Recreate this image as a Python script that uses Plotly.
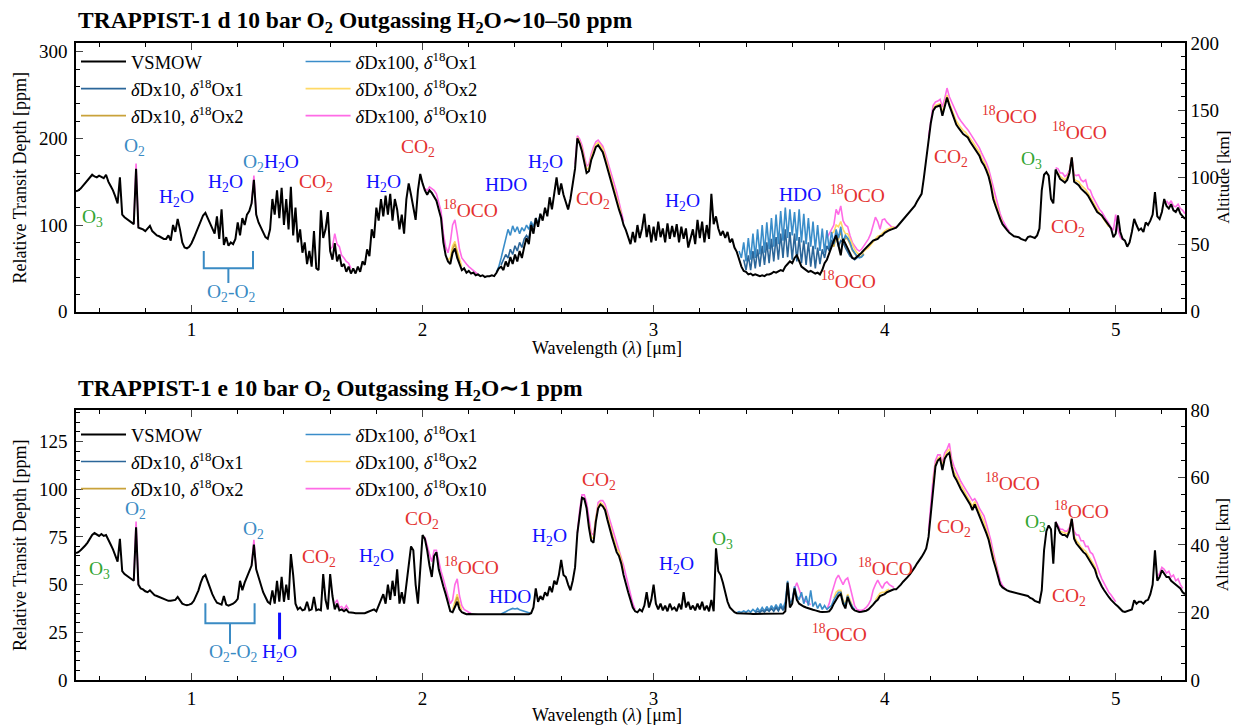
import plotly.graph_objects as go

# ---------------- data ----------------
WL_START = 0.50
WL_STEP = 0.01

# TRAPPIST-1 d, VSMOW spectrum (ppm), one value every 0.01 um from 0.50 to 5.30
d_vsmow = [
    139, 140, 142, 145, 148, 152, 155, 158, 156,        # 0.50-0.58
    155, 157, 155, 154, 158, 150, 145, 140, 133, 125,   # 0.59
    155, 112, 109, 107, 105, 103, 101, 165, 97, 96,     # 0.69
    95, 93, 96, 99, 93, 90, 88, 87, 85, 84,             # 0.79
    84, 88, 82, 100, 92, 107, 95, 80, 74, 73,           # 0.89
    75, 79, 85, 91, 97, 105, 111, 114, 108, 100,        # 0.99
    94, 90, 110, 84, 118, 77, 86, 76, 80, 78,           # 1.09
    84, 103, 88, 108, 100, 112, 116, 125, 152, 112,     # 1.19
    103, 97, 92, 86, 84, 95, 130, 112, 140, 108,        # 1.29
    143, 100, 130, 95, 144, 88, 120, 80, 95, 68,        # 1.39
    80, 55, 70, 52, 93, 50, 48, 117, 85, 95,            # 1.49
    115, 70, 60, 79, 58, 66, 52, 55, 46, 52,            # 1.59
    44, 50, 44, 52, 46, 58, 54, 72, 64, 95,             # 1.69
    85, 120, 105, 130, 110, 134, 112, 136, 105, 130,    # 1.79
    118, 95, 112, 90, 130, 148, 135, 118, 106, 140,     # 1.89
    159, 148, 140, 135, 140, 137, 132, 128, 118, 108,   # 1.99
    80, 65, 58, 55, 68, 73, 62, 55, 48, 50,             # 2.09
    45, 47, 44, 45, 42, 43, 41, 42, 40, 41, 41,         # 2.19-2.29
    42, 41, 45, 50, 52, 48, 58, 52, 63, 55,             # 2.30
    66, 58, 70, 62, 75, 85, 78, 100, 90, 108,           # 2.40
    98, 113, 105, 120, 110, 132, 118, 140, 155, 135,    # 2.50
    148, 135, 125, 118, 130, 150, 165, 200, 194, 185,   # 2.60
    172, 160, 162, 175, 182, 190, 192, 188, 184, 175,   # 2.70
    165, 155, 148, 137, 128, 118, 110, 100, 94, 85,     # 2.80
    78, 92, 80, 100, 85, 96, 113, 86, 100, 80,          # 2.90
    98, 82, 104, 86, 96, 80, 102, 84, 99, 86,           # 3.00
    101, 80, 98, 84, 96, 74, 83, 95, 78, 106,           # 3.10
    85, 104, 80, 100, 84, 136, 101, 110, 96, 88,        # 3.20
    93, 85, 92, 80, 84, 74, 69, 60, 52, 47,             # 3.30
    46, 43, 44, 42, 43, 42, 41, 42, 41, 43,             # 3.40
    43, 44, 46, 45, 47, 48, 47, 52, 55, 58,             # 3.50
    56, 62, 65, 58, 52, 50, 48, 46, 47, 45,             # 3.60
    44, 45, 43, 48, 56, 60, 68, 76, 82, 88,             # 3.70
    75, 65, 84, 78, 72, 67, 62, 61, 63, 65,             # 3.80
    68, 71, 74, 77, 80, 82, 83, 84, 87, 88,             # 3.90
    91, 93, 94, 95, 96, 97, 100, 103, 107, 110,         # 4.00
    113, 116, 119, 122, 127, 132, 136, 155, 178, 200,   # 4.10
    218, 232, 236, 237, 238, 226, 238, 247, 238, 231,   # 4.20
    222, 216, 212, 208, 205, 203, 201, 196, 192, 188,   # 4.30
    184, 180, 173, 169, 163, 156, 145, 130, 122, 113,   # 4.40
    107, 101, 97, 94, 91, 89, 87, 86.5, 86, 84,         # 4.50
    83, 82, 86, 87, 86, 85, 88, 96, 140, 158,           # 4.60
    161, 157, 130, 125, 164, 158, 153, 151, 149, 152,   # 4.70
    160, 178, 150, 148, 146, 142, 140, 137, 134, 129,   # 4.80
    124, 119, 115, 113, 111, 107, 103, 99, 96, 86,      # 4.90
    90, 111, 92, 84, 82, 75, 80, 92, 107, 100,          # 5.00
    94, 96, 92, 103, 100, 105, 112, 138, 110, 107,      # 5.10
    115, 130, 122, 119, 124, 117, 115, 120, 113, 110,   # 5.20
    107,                                                # 5.30
]

# TRAPPIST-1 d, other isotopologue cases: (start wavelength, values every 0.01 um)
d_d10o1 = [
    (2.34, [54, 60, 66, 62, 72, 66, 76, 70, 80, 74, 84, 88, 84, 102, 94]),
    (3.39, [60, 48, 65, 48, 70, 50, 72, 52, 76, 54, 80, 56, 84, 58, 86, 60, 90, 62, 95, 63,
            92, 60, 90, 58, 86, 56, 82, 54, 80, 52, 76, 50, 74, 55, 72, 62, 76, 70, 82, 80,
            90, 75, 82, 80, 74, 68, 64, 62, 60, 62, 65]),
]
d_d10o2 = [
    (2.12, [58, 72, 78, 66, 57]),
    (3.77, [80, 75, 86, 84, 93, 80, 85, 84, 78, 71, 67, 64, 63, 64, 67]),
]
d_d100o1 = [
    (2.32, [46, 52, 62, 74, 86, 95, 88, 99, 92, 98, 90, 97, 93, 100, 95, 104, 98, 108, 102, 113]),
    (3.37, [70, 62, 80, 58, 85, 60, 90, 62, 95, 66, 100, 68, 103, 72, 108, 75, 112, 78, 116, 82,
            120, 85, 118, 88, 115, 82, 118, 80, 113, 78, 108, 75, 104, 72, 100, 70, 96, 68, 94, 72,
            92, 78, 95, 85, 98, 80, 88, 85, 80, 72, 68, 64, 62, 63, 66]),
]
d_d100o2 = [
    (2.11, [60, 62, 76, 81, 70, 60, 52]),
    (2.67, [201, 196, 188, 176, 164, 166, 178, 186, 193, 195, 192, 188, 179, 169, 160, 152, 141, 132, 122, 113]),
    (3.77, [90, 92, 100, 98, 104, 95, 90, 90, 84, 77, 72, 68, 66, 67, 70, 72, 74, 77, 80, 84,
            87, 88, 91, 93, 95, 96, 97, 98]),
    (4.21, [234, 238, 239, 240, 230, 240, 250, 241, 234, 226, 220, 216, 212, 209, 207, 204, 200, 196, 192, 188,
            184, 177, 173, 167, 160, 149, 135, 126, 116, 109, 103]),
    (4.75, [160, 156, 154, 152, 155, 161, 178, 153, 151, 150, 146, 144, 141, 137, 132, 127, 122, 118, 114, 110,
            106, 101, 98]),
]
d_d100o10 = [
    (0.75, [101, 171, 97]),
    (1.26, [125, 157, 112]),
    (1.60, [72, 75, 90, 78, 75, 65, 62, 58, 56, 50]),
    (2.01, [142, 140, 144, 142, 140, 136, 126, 116, 90, 75, 68, 80, 100, 106, 90, 72, 62, 58, 55, 52,
            50, 47, 45, 43]),
    (2.66, [170, 203, 199, 192, 180, 168, 170, 182, 190, 196, 198, 195, 191, 183, 174, 165, 158, 147, 138, 127,
            117, 104]),
    (3.75, [85, 90, 95, 100, 118, 112, 122, 105, 100, 98, 88, 80, 76, 72, 70, 72, 76, 80, 84, 90,
            100, 109, 104, 95, 106, 107, 103, 100, 98, 97, 98]),
    (4.19, [202, 222, 238, 242, 243, 245, 236, 246, 258, 248, 242, 234, 228, 224, 220, 216, 213, 210, 206, 202,
            198, 193, 189, 183, 178, 172, 165, 155, 142, 132, 122, 113, 106, 100, 96, 93]),
    (4.74, [166, 165, 160, 160, 156, 158, 163, 178, 158, 157, 158, 152, 150, 152, 142, 140, 133, 128, 124, 118,
            115, 110, 106, 102, 97, 94, 112, 94, 86, 83]),
    (5.22, [128, 124, 128, 122, 121, 124, 119, 117, 113]),
]

# TRAPPIST-1 e, VSMOW spectrum (ppm), one value every 0.01 um from 0.50 to 5.30
e_vsmow = [
    66.5, 67, 68, 69, 70.5, 72, 74, 76, 77,                  # 0.50-0.58
    76, 75.5, 76.5, 75.5, 76, 73, 71, 68.5, 65, 62,          # 0.59
    74, 57, 55.5, 54.5, 53.5, 53, 52, 80, 50, 48,            # 0.69
    47.5, 46.5, 46, 47, 45.5, 44.5, 44, 43.5, 43, 42.5,      # 0.79
    42, 41.5, 41.5, 41.8, 42, 43.5, 41.5, 40, 39.5, 39.2,    # 0.89
    39.5, 40, 41.5, 44, 47, 51, 54, 55, 51.5, 48,            # 0.99
    45, 42.5, 40.5, 40, 39.5, 44, 39.5, 39, 39.5, 40,        # 1.09
    41, 42.5, 52, 47, 51, 54, 57, 60, 71, 58,                # 1.19
    54, 50, 46, 43.5, 41, 40, 47, 40, 52, 41,                # 1.29
    54, 41, 50, 42, 66, 55, 40, 37, 38, 36.5,                # 1.39
    37, 41, 36.5, 37, 43.5, 36.5, 37, 36.5, 55.5, 42,        # 1.49
    37, 55.5, 44, 37, 40, 36.5, 37, 36, 37, 35.5,            # 1.59
    35.5, 35.2, 35, 35, 35, 35.2, 35, 35.5, 36, 36.5,        # 1.69
    37, 36, 39, 41, 45, 40, 50, 42, 52, 44,                  # 1.79
    58, 40, 46, 40, 50, 62, 70, 68, 50, 40,                  # 1.89
    58, 76, 74, 68, 60, 54, 65, 67, 58, 53,                  # 1.99
    49, 45, 40, 36, 35.5, 38, 41, 37, 35.5, 35,              # 2.09
    34.5, 34.6, 34.5, 34.5, 34.6, 34.5, 34.5, 34.6, 34.5, 34.5, 34.5,  # 2.19-2.29
    34.5, 34.5, 34.6, 34.5, 34.5, 34.6, 34.5, 34.5, 34.6, 34.5,  # 2.30
    34.5, 34.6, 34.5, 34.5, 34.6, 34.5, 34.5, 35, 38, 48,    # 2.40
    41, 44, 42, 46, 44, 49, 46, 52, 50, 55,                  # 2.50
    63, 55, 54, 50, 47, 52, 59, 77, 86, 95.5,                # 2.60
    95, 90, 80, 73, 72, 83, 90, 92, 91, 89,                  # 2.70
    84, 79, 75, 71, 67, 65, 61, 55, 50, 46,                  # 2.80
    42, 38, 36, 35.5, 37, 36, 39, 46, 38, 42,                # 2.90
    50, 40, 37, 40, 36.5, 39, 36, 40, 37, 38,                # 3.00
    36, 40, 37, 46, 38, 41, 37, 39, 36.5, 40,                # 3.10
    37, 41, 36.5, 39, 36, 42, 36, 69, 57, 55,                # 3.20
    51, 46, 41, 38, 36.5, 35.5, 35, 35, 34.8, 34.8,          # 3.30
    34.7, 34.7, 34.7, 34.6, 34.6, 34.6, 34.6, 34.6, 34.6, 34.6,  # 3.40
    34.6, 34.6, 34.6, 34.6, 34.6, 34.7, 34.8, 36, 51, 38,    # 3.50
    40, 48, 42, 40, 39, 38.5, 38, 37.5, 37, 36.8,            # 3.60
    36.5, 36, 35.8, 35.6, 35.5, 35.7, 36, 37.5, 40, 42,      # 3.70
    44, 45, 40, 37.5, 43.5, 40, 37.5, 36.5, 36, 35.7,        # 3.80
    35.8, 36, 36.3, 37, 38, 39.5, 41, 42, 44, 44.5,          # 3.90
    45, 46, 46.5, 47, 47.5, 47.5, 48.5, 50, 51.5, 52.5,      # 4.00
    54, 55.5, 57, 59, 61, 62.5, 64.5, 66.5, 69, 75,          # 4.10
    88, 102, 112, 115, 116, 110, 116, 118, 119, 112,         # 4.20
    107, 105, 102, 100, 98, 96, 94, 92, 89, 92,              # 4.30
    89, 86, 84, 81, 77, 73.5, 68, 63, 59, 54,                # 4.40
    50, 48.5, 47.5, 47, 46.5, 46.2, 46, 45.8, 45.5, 45.3,    # 4.50
    45, 44.5, 44, 43, 42.5, 41.5, 41, 40.5, 47, 68,          # 4.60
    78, 81, 79, 61, 82.8, 80, 77, 76, 76, 75,                # 4.70
    78, 84.5, 74, 71.5, 70, 68, 67, 66, 64, 62,              # 4.80
    60, 58, 54, 51, 49, 47, 45, 43.5, 42, 40.5,              # 4.90
    39.5, 38.5, 37, 36, 35.7, 36, 36.5, 37, 41.8, 40,        # 5.00
    41, 41, 40, 41.5, 42, 45, 50, 68, 52, 54,                # 5.10
    57.5, 56, 54, 54, 52, 51, 50, 49, 48, 46,                # 5.20
    45,                                                      # 5.30
]

e_d10o1 = [
    (3.44, [35.3, 36, 35.5, 36.5, 35.7, 37, 36, 37.5, 36, 38, 36.2, 38.5, 36.5, 39]),
]
e_d10o2 = [
    (2.14, [40, 43.5, 39]),
    (3.79, [44, 45.5, 46, 41, 38.5, 44.5]),
]
e_d100o1 = [
    (2.34, [34.6, 35, 35.8, 36.5, 37, 37.5, 37.2, 37.5, 36.8, 36.5, 36.2, 35.8, 35.3, 34.8]),
    (3.36, [35.3, 35.8, 35.4, 36.2, 35.5, 36.5, 35.6, 37, 35.8, 37.5, 36, 38, 36.2, 38.5, 36.5, 39, 37, 39.5, 37, 40,
            37.5, 41, 52, 40, 42, 49, 44, 42, 46, 40, 44, 39, 47, 38.5, 41, 37.5, 40, 37, 39, 37,
            38, 39, 42, 44, 46, 46, 41, 39, 44, 41, 38.5, 37]),
]
e_d100o2 = [
    (2.13, [37, 41, 45, 40, 36.5]),
    (2.72, [82, 75, 74, 85, 91, 93, 92, 90, 86, 81, 77, 73, 69, 67, 63, 57]),
    (3.78, [43, 46, 47, 47, 42, 40, 45, 42, 39]),
    (3.96, [42, 43.5, 45.5, 46, 46, 47, 47.5]),
    (4.21, [103, 113, 116, 117, 112, 117, 119.5, 121, 113.5, 109, 107, 104, 102, 100, 97.5, 95.5, 93.5, 91, 93.5, 91,
            88, 86, 83, 79, 75.5, 70, 65, 60.5, 55.5]),
    (4.76, [78, 77.5, 77, 76.5, 79, 84.5, 75.5, 73, 71.5, 69.5, 68.5, 67.5, 65.5, 63.5, 61.5, 59.5, 55.5]),
]
e_d100o10 = [
    (0.75, [52, 83, 50]),
    (1.26, [60, 73.5, 58]),
    (1.62, [40, 42, 38, 38.5, 37, 39, 37]),
    (2.01, [75, 70, 66, 62, 68, 68, 62, 57, 53, 48, 44, 40, 42, 50, 53, 44, 39, 37, 36, 35.5, 35]),
    (2.67, [77, 89, 97, 97, 93, 84, 77, 76, 86, 93, 94, 94, 92, 88, 84, 80, 76, 72, 69, 65,
            60, 55, 50, 45, 40, 37]),
    (3.60, [42, 48, 51, 47, 44, 42, 41, 40, 39.5]),
    (3.75, [37, 40, 45, 49, 53, 55, 52, 50, 52.5, 53.5, 49, 44, 39, 37, 36.5, 36.5, 37, 38, 39.5, 42,
            47, 50, 52.3, 50, 48, 50.5, 51.4, 50, 49, 48.5]),
    (4.19, [78, 92, 106, 115, 118, 118, 114, 119, 121, 124, 116, 112, 109, 106, 104, 102, 100, 98, 96, 94,
            95, 93, 90, 88, 86, 82, 78, 73, 67, 62, 57, 52, 49.5, 48]),
    (4.74, [83, 81, 79, 79, 78, 78, 80, 84.5, 78, 76, 76, 73, 73, 70, 70, 67, 66, 63, 59, 56,
            53, 50.5, 48.5, 46, 44.5, 42.5, 41]),
    (5.18, [54, 56, 59, 58, 56, 57, 54, 55, 52, 53, 50, 48]),
]

series_names = [
    "VSMOW",
    "<i>δ</i>Dx10, <i>δ</i><sup>18</sup>Ox1",
    "<i>δ</i>Dx10, <i>δ</i><sup>18</sup>Ox2",
    "<i>δ</i>Dx100, <i>δ</i><sup>18</sup>Ox1",
    "<i>δ</i>Dx100, <i>δ</i><sup>18</sup>Ox2",
    "<i>δ</i>Dx100, <i>δ</i><sup>18</sup>Ox10",
]
series_colors = ["#000000", "#2b6699", "#c9a23a", "#3a8dc9", "#ffd966", "#ff6be6"]

# ---------------- helpers ----------------
def full_grid(values):
    xs = [round(WL_START + WL_STEP * i, 2) for i in range(len(values))]
    return xs, values


def seg_grid(segments):
    xs, ys = [], []
    for start, vals in segments:
        for i, v in enumerate(vals):
            xs.append(round(start + WL_STEP * i, 2))
            ys.append(v)
        xs.append(None)
        ys.append(None)
    return xs, ys


FONT = "Liberation Serif"
fig = go.Figure()


def add_panel(xref, yref, vsmow, others, legA, legB):
    order = [5, 4, 2, 3, 1]
    for k in order:
        xs, ys = seg_grid(others[k - 1])
        leg = legA if k <= 2 else legB
        rank = k + 1 if k <= 2 else k - 2
        fig.add_trace(go.Scatter(
            x=xs, y=ys, mode="lines", name=series_names[k],
            line=dict(color=series_colors[k], width=1.6),
            xaxis=xref, yaxis=yref, legend=leg, legendrank=rank,
            connectgaps=False, hoverinfo="skip"))
    xs, ys = full_grid(vsmow)
    fig.add_trace(go.Scatter(
        x=xs, y=ys, mode="lines", name=series_names[0],
        line=dict(color="#000000", width=2),
        xaxis=xref, yaxis=yref, legend=legA, legendrank=1, hoverinfo="skip"))


add_panel("x", "y", d_vsmow, [d_d10o1, d_d10o2, d_d100o1, d_d100o2, d_d100o10], "legend", "legend2")
add_panel("x2", "y3", e_vsmow, [e_d10o1, e_d10o2, e_d100o1, e_d100o2, e_d100o10], "legend3", "legend4")

# empty traces so the right-hand altitude axes are drawn
fig.add_trace(go.Scatter(x=[None], y=[None], xaxis="x", yaxis="y2", showlegend=False, hoverinfo="skip"))
fig.add_trace(go.Scatter(x=[None], y=[None], xaxis="x2", yaxis="y4", showlegend=False, hoverinfo="skip"))

# ---------------- axes ----------------
TOP_DOM = [0.5782, 1.0]
BOT_DOM = [0.0, 0.4239]
tickfont = dict(family=FONT, size=19, color="black")


def minor(dt):
    return dict(dtick=dt, tick0=0, ticks="inside", ticklen=4, tickcolor="black", showgrid=False)


def xaxis_cfg(anchor):
    return dict(
        domain=[0, 1], anchor=anchor, range=[0.5, 5.3], automargin=False,
        tickvals=[1, 2, 3, 4, 5], ticks="inside", ticklen=7, tickwidth=1.2,
        showline=True, linecolor="black", linewidth=1.5, mirror="ticks",
        showgrid=False, zeroline=False, tickfont=tickfont, minor=minor(0.2),
    )


def yleft_cfg(domain, anchor, rng, dtick, mdtick):
    return dict(
        domain=domain, anchor=anchor, range=rng, dtick=dtick, tick0=0, automargin=False,
        ticks="inside", ticklen=7, tickwidth=1.2, showline=True, linecolor="black", linewidth=1.5,
        showgrid=False, zeroline=False, tickfont=tickfont, minor=minor(mdtick), ticklabelstandoff=3,
    )


def yright_cfg(over, anchor, rng, dtick, mdtick):
    return dict(
        overlaying=over, anchor=anchor, side="right", range=rng, dtick=dtick, tick0=0, automargin=False,
        ticks="inside", ticklen=7, tickwidth=1.2, showline=True, linecolor="black", linewidth=1.5,
        showgrid=False, zeroline=False, tickfont=tickfont, minor=minor(mdtick), ticklabelstandoff=0,
    )


legend_common = dict(bgcolor="rgba(0,0,0,0)", borderwidth=0, xanchor="left", yanchor="top",
                     font=dict(family=FONT, size=18.5, color="black"), itemwidth=45,
                     tracegroupgap=0, traceorder="normal")

# the page adds an 8px body margin, so the figure is 8px smaller than the window
fig.update_layout(
    width=1231, height=717,
    margin=dict(l=68, r=53.5, t=35, b=45),
    paper_bgcolor="white", plot_bgcolor="white",
    font=dict(family=FONT, size=19, color="black"),
    xaxis=xaxis_cfg("y"),
    yaxis=yleft_cfg(TOP_DOM, "x", [0, 310], 100, 20),
    yaxis2=yright_cfg("y", "x", [0, 200], 50, 10),
    xaxis2=xaxis_cfg("y3"),
    yaxis3=yleft_cfg(BOT_DOM, "x2", [0, 141.5], 25, 5),
    yaxis4=yright_cfg("y3", "x2", [0, 80], 20, 5),
    legend=dict(x=0.0, y=1.0, **legend_common),
    legend2=dict(x=0.2025, y=1.0, **legend_common),
    legend3=dict(x=0.0, y=0.4145, **legend_common),
    legend4=dict(x=0.2025, y=0.4145, **legend_common),
    showlegend=True,
)

# ---------------- titles & axis titles ----------------
AX_TITLE = dict(family=FONT, size=18, color="black")
fig.add_annotation(text="<b>TRAPPIST-1 d 10 bar O<sub>2</sub> Outgassing H<sub>2</sub>O∼10–50 ppm</b>",
                   xref="paper", yref="paper", x=0.0, y=1.0, yshift=4, xanchor="left", yanchor="bottom",
                   showarrow=False, font=dict(family=FONT, size=23.5, color="black"))
fig.add_annotation(text="<b>TRAPPIST-1 e 10 bar O<sub>2</sub> Outgassing H<sub>2</sub>O∼1 ppm</b>",
                   xref="paper", yref="paper", x=0.0, y=BOT_DOM[1], yshift=3, xanchor="left", yanchor="bottom",
                   showarrow=False, font=dict(family=FONT, size=23.5, color="black"))
for yc in (0.789, 0.212):
    fig.add_annotation(text="Relative Transit Depth [ppm]", xref="paper", yref="paper", x=-0.0505, y=yc,
                       textangle=-90, showarrow=False, xanchor="center", yanchor="middle", font=AX_TITLE)
    fig.add_annotation(text="Altitude [km]", xref="paper", yref="paper", x=1.0345, y=yc,
                       textangle=-90, showarrow=False, xanchor="center", yanchor="middle",
                       font=dict(family=FONT, size=17, color="black"))
for yc in (0.521, -0.0565):
    fig.add_annotation(text="Wavelength (<i>λ</i>) [μm]", xref="paper", yref="paper", x=0.4786, y=yc,
                       showarrow=False, xanchor="center", yanchor="middle", font=AX_TITLE)

# ---------------- molecule labels ----------------
RED = "#e4312f"
BLUE = "#1010ff"
STEEL = "#3a8bc4"
GREEN = "#33a532"

H2O = "H<sub>2</sub>O"
CO2 = "CO<sub>2</sub>"
OCO = "<sup>18</sup>OCO"
O2 = "O<sub>2</sub>"
O3 = "O<sub>3</sub>"
HDO = "HDO"
O2O2 = "O<sub>2</sub>-O<sub>2</sub>"
O2H2O = "<span style='color:%s'>O<sub>2</sub></span><span style='color:%s'>H<sub>2</sub>O</span>" % (STEEL, BLUE)

labels_d = [
    (O2, 0.753, 190, STEEL), (O3, 0.571, 108, GREEN), (H2O, 0.935, 131, BLUE), (H2O, 1.146, 148, BLUE),
    (O2H2O, 1.343, 171, BLUE), (CO2, 1.54, 148, RED), (H2O, 1.83, 148, BLUE), (CO2, 1.981, 189, RED),
    (OCO, 2.206, 119, RED), (HDO, 2.362, 147, BLUE), (H2O, 2.533, 171, BLUE), (CO2, 2.738, 129, RED),
    (H2O, 3.127, 126, BLUE), (HDO, 3.632, 135, BLUE), (OCO, 3.884, 136, RED), (OCO, 3.843, 36, RED),
    (CO2, 4.286, 177, RED), (OCO, 4.541, 227, RED), (OCO, 4.842, 209, RED), (O3, 4.636, 175, GREEN),
    (CO2, 4.792, 97, RED), (O2O2, 1.172, 21, STEEL),
]
labels_e = [
    (O2, 0.759, 89, STEEL), (O3, 0.60, 57.7, GREEN), (O2, 1.269, 78.6, STEEL), (CO2, 1.55, 63.8, RED),
    (H2O, 1.80, 64.6, BLUE), (CO2, 1.998, 83.9, RED), (OCO, 2.21, 59.5, RED), (HDO, 2.379, 43.7, BLUE),
    (H2O, 2.551, 74.8, BLUE), (CO2, 2.763, 104.5, RED), (H2O, 3.101, 60.3, BLUE), (O3, 3.30, 73.4, GREEN),
    (HDO, 3.701, 63.3, BLUE), (OCO, 4.004, 59.4, RED), (OCO, 3.806, 24.5, RED), (CO2, 4.301, 79.5, RED),
    (OCO, 4.554, 103.9, RED), (OCO, 4.852, 89.1, RED), (O3, 4.651, 82.1, GREEN), (CO2, 4.799, 43.7, RED),
    (O2O2, 1.18, 14.3, STEEL), (H2O, 1.382, 14.3, BLUE),
]
LBL = 19.5
for (txt, x, y, c) in labels_d:
    fig.add_annotation(text=txt, x=x, y=y, xref="x", yref="y", showarrow=False,
                       font=dict(family=FONT, size=LBL, color=c), xanchor="center", yanchor="middle")
for (txt, x, y, c) in labels_e:
    fig.add_annotation(text=txt, x=x, y=y, xref="x2", yref="y3", showarrow=False,
                       font=dict(family=FONT, size=LBL, color=c), xanchor="center", yanchor="middle")

# O2-O2 brackets
bracket_d = dict(x0=1.053, x1=1.266, ybar=50, ytop=70, ystem=33)
bracket_e = dict(x0=1.06, x1=1.273, ybar=29.7, ytop=40.2, ystem=18.9)
for b, xr, yr in [(bracket_d, "x", "y"), (bracket_e, "x2", "y3")]:
    xm = (b["x0"] + b["x1"]) / 2
    fig.add_shape(type="path", xref=xr, yref=yr,
                  path="M %f,%f L %f,%f L %f,%f L %f,%f" % (b["x0"], b["ytop"], b["x0"], b["ybar"], b["x1"], b["ybar"], b["x1"], b["ytop"]),
                  line=dict(color=STEEL, width=2))
    fig.add_shape(type="line", xref=xr, yref=yr, x0=xm, x1=xm, y0=b["ybar"], y1=b["ystem"],
                  line=dict(color=STEEL, width=2))
# H2O marker in bottom panel
fig.add_shape(type="line", xref="x2", yref="y3", x0=1.381, x1=1.381, y0=21.3, y1=35.3,
              line=dict(color=BLUE, width=3))

fig.write_html("out.html")
